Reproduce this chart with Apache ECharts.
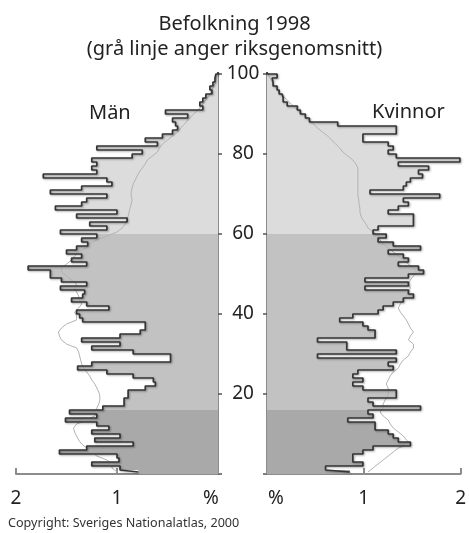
<!DOCTYPE html>
<html>
<head>
<meta charset="utf-8">
<script src="https://cdn.jsdelivr.net/npm/echarts@6/dist/echarts.min.js"></script>
<style>
  html, body { margin: 0; padding: 0; background: #fff; }
  #chart { width: 469px; height: 533px; }
</style>
</head>
<body>
<div id="chart"></div>
<script>
// ages 0..100, values in % of each sex
const ages = [];
for (let i = 0; i <= 100; i++) ages.push(String(i));

const manLocal = [
  0.79, 0.97, 1.25, 0.98, 1.00, 1.57, 1.30, 0.84, 1.22, 0.97,
  1.25, 1.08, 1.20, 1.51, 1.20, 1.47, 1.14, 0.93, 0.93, 0.89,
  0.89, 0.72, 0.62, 0.64, 0.84, 1.10, 1.39, 1.25, 0.47, 0.47,
  0.84, 1.25, 0.97, 1.35, 0.97, 0.77, 0.72, 0.72, 1.34, 1.37,
  1.40, 1.08, 1.30, 1.45, 1.34, 1.32, 1.56, 1.30, 1.55, 1.66,
  1.66, 1.88, 1.30, 1.45, 1.35, 1.50, 1.40, 1.29, 1.35, 1.20,
  1.56, 1.10, 1.27, 0.90, 1.40, 1.00, 1.61, 1.35, 1.30, 1.10,
  1.66, 1.35, 1.05, 1.10, 1.73, 1.20, 1.25, 1.20, 1.25, 0.85,
  0.75, 1.20, 0.60, 0.72, 0.55, 0.45, 0.40, 0.42, 0.45, 0.30,
  0.52, 0.15, 0.18, 0.15, 0.12, 0.06, 0.08, 0.05, 0.03, 0.02,
  0
];
const manNational = [
  1.00, 1.05, 1.05, 1.10, 1.20, 1.25, 1.30, 1.35, 1.38, 1.40,
  1.42, 1.43, 1.40, 1.30, 1.22, 1.20, 1.20, 1.18, 1.17, 1.17,
  1.18, 1.20, 1.22, 1.25, 1.27, 1.30, 1.33, 1.35, 1.36, 1.37,
  1.38, 1.40, 1.50, 1.55, 1.57, 1.58, 1.55, 1.50, 1.40, 1.40,
  1.42, 1.38, 1.35, 1.37, 1.38, 1.40, 1.42, 1.40, 1.45, 1.50,
  1.55, 1.55, 1.50, 1.45, 1.42, 1.38, 1.30, 1.28, 1.20, 1.10,
  1.00, 0.95, 0.92, 0.90, 0.89, 0.88, 0.87, 0.86, 0.85, 0.86,
  0.86, 0.85, 0.84, 0.82, 0.80, 0.78, 0.75, 0.72, 0.70, 0.65,
  0.60, 0.58, 0.55, 0.50, 0.45, 0.40, 0.37, 0.33, 0.30, 0.26,
  0.22, 0.18, 0.15, 0.12, 0.09, 0.07, 0.05, 0.03, 0.02, 0.01,
  0
];
const womanLocal = [
  0.82, 0.58, 0.95, 0.85, 0.85, 0.95, 1.05, 1.42, 1.30, 1.25,
  1.20, 1.07, 1.07, 0.80, 1.05, 1.00, 1.52, 1.05, 1.00, 1.28,
  1.28, 0.95, 0.85, 0.95, 0.85, 0.90, 1.25, 1.20, 1.28, 0.50,
  1.28, 0.79, 0.79, 0.50, 1.07, 1.07, 1.00, 0.95, 0.72, 0.85,
  1.10, 1.15, 1.25, 1.35, 1.45, 1.40, 0.97, 1.40, 0.97, 1.40,
  1.55, 1.50, 1.30, 1.40, 1.35, 1.20, 1.52, 1.25, 1.10, 1.18,
  1.05, 1.10, 1.45, 1.45, 1.45, 1.20, 1.30, 1.40, 1.35, 1.71,
  1.02, 1.35, 1.38, 1.42, 1.54, 1.50, 1.60, 1.30, 1.91, 1.28,
  1.20, 1.25, 1.20, 0.95, 0.95, 1.28, 1.28, 0.70, 0.42, 0.38,
  0.33, 0.30, 0.20, 0.16, 0.15, 0.12, 0.10, 0.06, 0.05, 0.10,
  0
];
const womanNational = [
  1.00, 1.05, 1.10, 1.15, 1.20, 1.25, 1.30, 1.42, 1.38, 1.35,
  1.30, 1.25, 1.22, 1.20, 1.15, 1.12, 1.15, 1.15, 1.17, 1.20,
  1.20, 1.20, 1.18, 1.20, 1.22, 1.25, 1.30, 1.32, 1.35, 1.40,
  1.42, 1.45, 1.45, 1.40, 1.42, 1.45, 1.42, 1.40, 1.38, 1.35,
  1.32, 1.30, 1.32, 1.35, 1.38, 1.40, 1.42, 1.40, 1.42, 1.45,
  1.48, 1.45, 1.40, 1.35, 1.30, 1.25, 1.20, 1.15, 1.12, 1.10,
  1.05, 1.00, 0.98, 0.95, 0.93, 0.92, 0.92, 0.91, 0.91, 0.90,
  0.90, 0.90, 0.90, 0.90, 0.90, 0.90, 0.90, 0.88, 0.85, 0.80,
  0.75, 0.72, 0.68, 0.64, 0.60, 0.55, 0.50, 0.46, 0.42, 0.38,
  0.33, 0.28, 0.24, 0.20, 0.16, 0.12, 0.09, 0.06, 0.04, 0.02,
  0
];
const ageTicks = [20, 40, 60, 80, 100];

// fill shade by age group
function bandColor(age) {
  if (age < 16) return '#a9a9a9';
  if (age < 60) return '#c2c2c2';
  return '#dcdcdc';
}
function barData(vals) {
  return vals.map(function (v, i) {
    return { value: v, itemStyle: { color: bandColor(i) } };
  });
}

const font = 'Noto Sans';
const axisGray = '#8c8c8c';
const outline = {
  color: '#353535', width: 1.7,
  shadowColor: 'rgba(0,0,0,0.35)', shadowBlur: 2, shadowOffsetX: 1, shadowOffsetY: 1
};

let chart = echarts.init(document.getElementById('chart'));
let option = {
  animation: false,
  textStyle: { fontFamily: font },
  title: {
    text: 'Befolkning 1998\n(grå linje anger riksgenomsnitt)',
    left: 'center',
    top: 7,
    textStyle: { fontFamily: font, fontSize: 20, fontWeight: 'normal', color: '#222', lineHeight: 25 }
  },
  graphic: [
    { type: 'text', left: 89, top: 103, style: { text: 'Män', font: '20px "Noto Sans"', fill: '#222' } },
    { type: 'text', left: 372, top: 102, style: { text: 'Kvinnor', font: '20px "Noto Sans"', fill: '#222' } },
    { type: 'text', left: 8, top: 517, style: { text: 'Copyright: Sveriges Nationalatlas, 2000', font: '12.6px "Noto Sans"', fill: '#333' } }
  ],
  grid: [
    { left: 16, right: 251, top: 70, bottom: 59 },  // left data
    { left: 16, right: 251, top: 74, bottom: 59 },  // left axes
    { left: 267, right: 0, top: 70, bottom: 59 },   // right data
    { left: 267, right: 0, top: 74, bottom: 59 }    // right axes
  ],
  xAxis: [
    { gridIndex: 0, type: 'value', min: 0, max: 2, inverse: true, show: false },
    {
      gridIndex: 1, type: 'value', min: 0, max: 2, interval: 1, inverse: true,
      splitLine: { show: false },
      axisLine: { show: true, lineStyle: { color: axisGray, width: 2 } },
      axisTick: { show: true, inside: true, length: 6, lineStyle: { color: axisGray, width: 2 } },
      axisLabel: {
        margin: 15, fontSize: 19, color: '#222',
        formatter: function (v) { return v === 0 ? '{p|%}' : String(v); },
        rich: { p: { fontSize: 19, color: '#222', padding: [0, 14, 0, 0] } }
      }
    },
    { gridIndex: 2, type: 'value', min: 0, max: 2, show: false },
    {
      gridIndex: 3, type: 'value', min: 0, max: 2, interval: 1,
      splitLine: { show: false },
      axisLine: { show: true, lineStyle: { color: axisGray, width: 2 } },
      axisTick: { show: true, inside: true, length: 6, lineStyle: { color: axisGray, width: 2 } },
      axisLabel: {
        margin: 15, fontSize: 19, color: '#222',
        formatter: function (v) { return v === 0 ? '{p|%}' : String(v); },
        rich: { p: { fontSize: 19, color: '#222', padding: [0, 0, 0, 18] } }
      }
    }
  ],
  yAxis: [
    { gridIndex: 0, type: 'category', data: ages, show: false },
    {
      gridIndex: 1, type: 'value', min: 0, max: 100, interval: 20, position: 'right',
      splitLine: { show: false },
      axisLine: { show: true, lineStyle: { color: axisGray, width: 2 } },
      axisTick: { show: true, length: 4, lineStyle: { color: '#555', width: 1.5 } },
      axisLabel: {
        margin: 25, align: 'center', fontSize: 19, color: '#222',
        formatter: function (v) { return ageTicks.indexOf(v) >= 0 ? String(v) : ''; }
      }
    },
    { gridIndex: 2, type: 'category', data: ages, show: false },
    {
      gridIndex: 3, type: 'value', min: 0, max: 100, interval: 20, position: 'left',
      splitLine: { show: false },
      axisLine: { show: true, lineStyle: { color: axisGray, width: 2 } },
      axisTick: { show: true, length: 4, lineStyle: { color: '#555', width: 1.5 } },
      axisLabel: { show: false }
    }
  ],
  series: [
    {
      type: 'bar', xAxisIndex: 0, yAxisIndex: 0, barCategoryGap: '0%', z: 1,
      data: barData(manLocal)
    },
    {
      type: 'line', xAxisIndex: 0, yAxisIndex: 0, z: 3, symbol: 'none',
      data: manNational, lineStyle: { color: '#b3b3b3', width: 1 }
    },
    {
      type: 'line', step: 'middle', xAxisIndex: 0, yAxisIndex: 0, z: 4, symbol: 'none',
      data: manLocal, lineStyle: outline
    },
    {
      type: 'bar', xAxisIndex: 2, yAxisIndex: 2, barCategoryGap: '0%', z: 1,
      data: barData(womanLocal)
    },
    {
      type: 'line', xAxisIndex: 2, yAxisIndex: 2, z: 3, symbol: 'none',
      data: womanNational, lineStyle: { color: '#b3b3b3', width: 1 }
    },
    {
      type: 'line', step: 'middle', xAxisIndex: 2, yAxisIndex: 2, z: 4, symbol: 'none',
      data: womanLocal, lineStyle: outline
    }
  ]
};
chart.setOption(option);
</script>
</body>
</html>
